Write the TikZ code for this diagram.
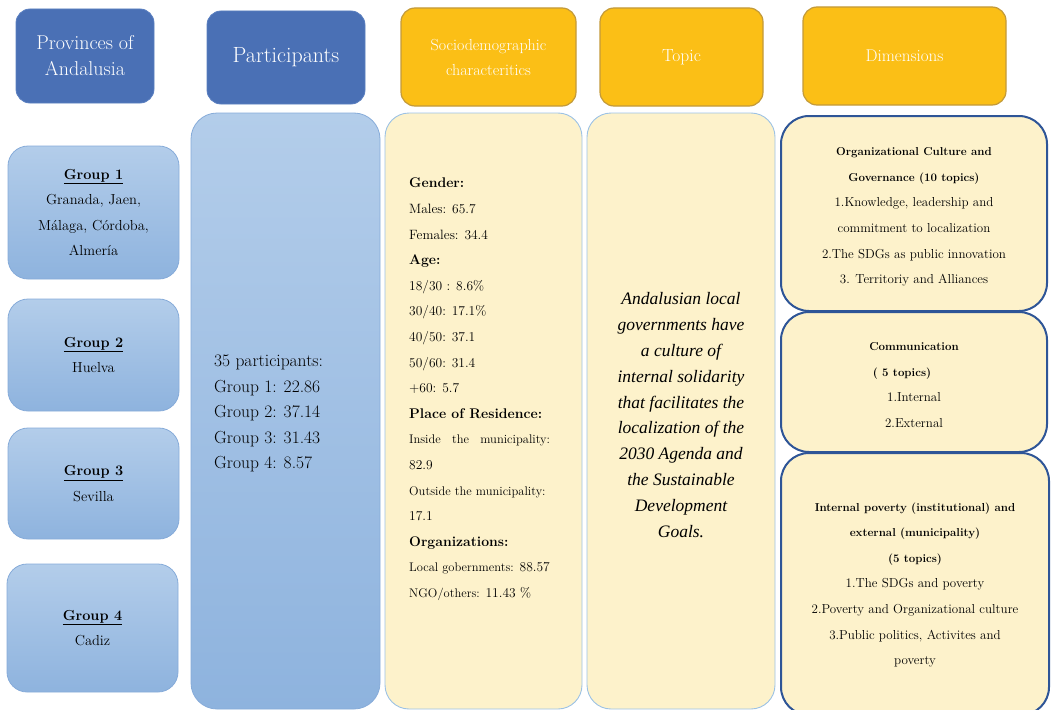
\documentclass[tikz,border=0pt]{standalone}
\usepackage{fontspec}
\newfontfamily\topicfont{Liberation Serif Italic}
\definecolor{hblue}{HTML}{4A70B5}
\definecolor{hblueline}{HTML}{5A7FC0}
\definecolor{gold}{HTML}{FBBF16}
\definecolor{goldline}{HTML}{C39A3A}
\definecolor{gtop}{HTML}{B3CDEA}
\definecolor{gbot}{HTML}{8EB3DE}
\definecolor{gline}{HTML}{86ABD9}
\definecolor{cream}{HTML}{FDF2CB}
\definecolor{creamline}{HTML}{9CC2E5}
\definecolor{dimline}{HTML}{2E5597}
\newcommand{\bhead}[1]{{\fontsize{14}{25.6}\selectfont\textbf{#1}}}
\newcommand{\smalltxt}[1]{{\fontsize{12.5}{25.6}\selectfont #1}}
\newcommand{\bdim}[1]{{\fontsize{11.5}{25.6}\selectfont\textbf{#1}}}
\begin{document}
\begin{tikzpicture}[x=1pt,y=-1pt,
  box/.style={inner sep=0pt, align=center},
  bluehead/.style={box, rounded corners=14pt, fill=hblue, draw=hblueline, line width=0.8pt, text=white},
  goldhead/.style={box, rounded corners=14pt, fill=gold, draw=goldline, line width=1.2pt, text=white},
  groupbox/.style={box, rounded corners=20pt, top color=gtop, bottom color=gbot, draw=gline, line width=0.8pt},
  creambox/.style={box, rounded corners=24pt, fill=cream, draw=creamline, line width=0.9pt},
  dimbox/.style={box, rounded corners=28pt, fill=cream, draw=dimline, line width=2pt},
  txt/.style={inner sep=0pt, align=center},
]
\useasboundingbox (0,0) rectangle (1051,709);
\begin{scope}
\clip (0,0) rectangle (1051,709);

% column headers
\node[bluehead, minimum width=138pt, minimum height=94pt,
  font=\fontsize{20}{26}\selectfont] (prov) at (85,56) {Provinces of\\Andalusia};
\node[bluehead, minimum width=158pt, minimum height=93pt,
  font=\fontsize{22}{26}\selectfont] (part) at (286,57.5) {Participants};
\node[goldhead, minimum width=175pt, minimum height=98pt,
  font=\fontsize{16}{25}\selectfont] (socio) at (488.5,57) {Sociodemographic\\characteritics};
\node[goldhead, minimum width=163pt, minimum height=98pt,
  font=\fontsize{17.5}{25}\selectfont] (topic) at (681.5,57) {Topic};
\node[goldhead, minimum width=203pt, minimum height=98pt,
  font=\fontsize{17}{25}\selectfont] (dims) at (904.5,56) {Dimensions};

% provinces grouped
\begin{scope}[every node/.append style={font=\fontsize{14.5}{25.5}\selectfont}]
\node[groupbox, minimum width=171pt, minimum height=133pt] (g1) at (93.5,212.5)
  {\underline{\textbf{Group 1}}\\Granada, Jaen,\\Málaga, Córdoba,\\Almería};
\node[groupbox, minimum width=171pt, minimum height=112pt] (g2) at (93.5,355)
  {\underline{\textbf{Group 2}}\\Huelva};
\node[groupbox, minimum width=171pt, minimum height=111pt] (g3) at (93.5,483.5)
  {\underline{\textbf{Group 3}}\\Sevilla};
\node[groupbox, minimum width=171pt, minimum height=128pt] (g4) at (92.5,628)
  {\underline{\textbf{Group 4}}\\Cadiz};
\end{scope}

% participants column
\node[groupbox, rounded corners=26pt, minimum width=189pt, minimum height=596pt] (pbody) at (285.5,411) {};
\node[txt, anchor=north west, align=left, font=\fontsize{17.5}{25.5}\selectfont] (ptext) at (214,355)
  {35 participants:\\Group 1: 22.86\\Group 2: 37.14\\Group 3: 31.43\\Group 4: 8.57};

% sociodemographic column
\node[creambox, minimum width=197pt, minimum height=596pt] (sbody) at (483.5,411) {};
\node[txt, anchor=north west, align=left, font=\fontsize{13.5}{25.6}\selectfont] (stext) at (409,178)
  {\bhead{Gender:}\\
   Males: 65.7\\
   Females: 34.4\\
   \bhead{Age:}\\
   18/30 : 8.6\%\\
   30/40: 17.1\%\\
   40/50: 37.1\\
   50/60: 31.4\\
   +60: 5.7\\
   \bhead{Place of Residence:}\\
   \smalltxt{Inside\hspace{0.9em}the\hspace{0.9em}municipality:}\\
   82.9\\
   \smalltxt{Outside the municipality:}\\
   17.1\\
   \bhead{Organizations:}\\
   \smalltxt{Local gobernments:} 88.57\\
   \smalltxt{NGO/others:} 11.43 \%};

% topic column
\node[creambox, minimum width=188pt, minimum height=596pt] (tbody) at (681,411) {};
\node[txt, font={\topicfont\fontsize{17.5}{25.8}\selectfont}] (ttext) at (681,415)
  {Andalusian local\\governments have\\a culture of\\internal solidarity\\that facilitates the\\localization of the\\2030 Agenda and\\the Sustainable\\Development\\Goals.};

% dimensions column
\begin{scope}[every node/.append style={font=\fontsize{13}{25.6}\selectfont}]
\node[dimbox, minimum width=266pt, minimum height=195pt] (d1) at (914,213.5) {};
\node[txt] (d1t) at (914,217)
  {\bdim{Organizational Culture and}\\\bdim{Governance (10 topics)}\\1.Knowledge, leadership and\\commitment to localization\\2.The SDGs as public innovation\\3. Territoriy and Alliances};
\node[dimbox, minimum width=266pt, minimum height=140pt] (d2) at (914,382) {};
\node[txt] (d2t) at (914,385)
  {\bdim{Communication}\\\hspace*{-24pt}\bdim{( 5 topics)}\\1.Internal\\2.External};
\node[dimbox, minimum width=268pt, minimum height=262pt] (d3) at (915,584) {};
\node[txt] (d3t) at (915,585)
  {\bdim{Internal poverty (institutional) and}\\\bdim{external (municipality)}\\\bdim{(5 topics)}\\1.The SDGs and poverty\\2.Poverty and Organizational culture\\3.Public politics, Activites and\\poverty};
\end{scope}
\end{scope}
\end{tikzpicture}
\end{document}
